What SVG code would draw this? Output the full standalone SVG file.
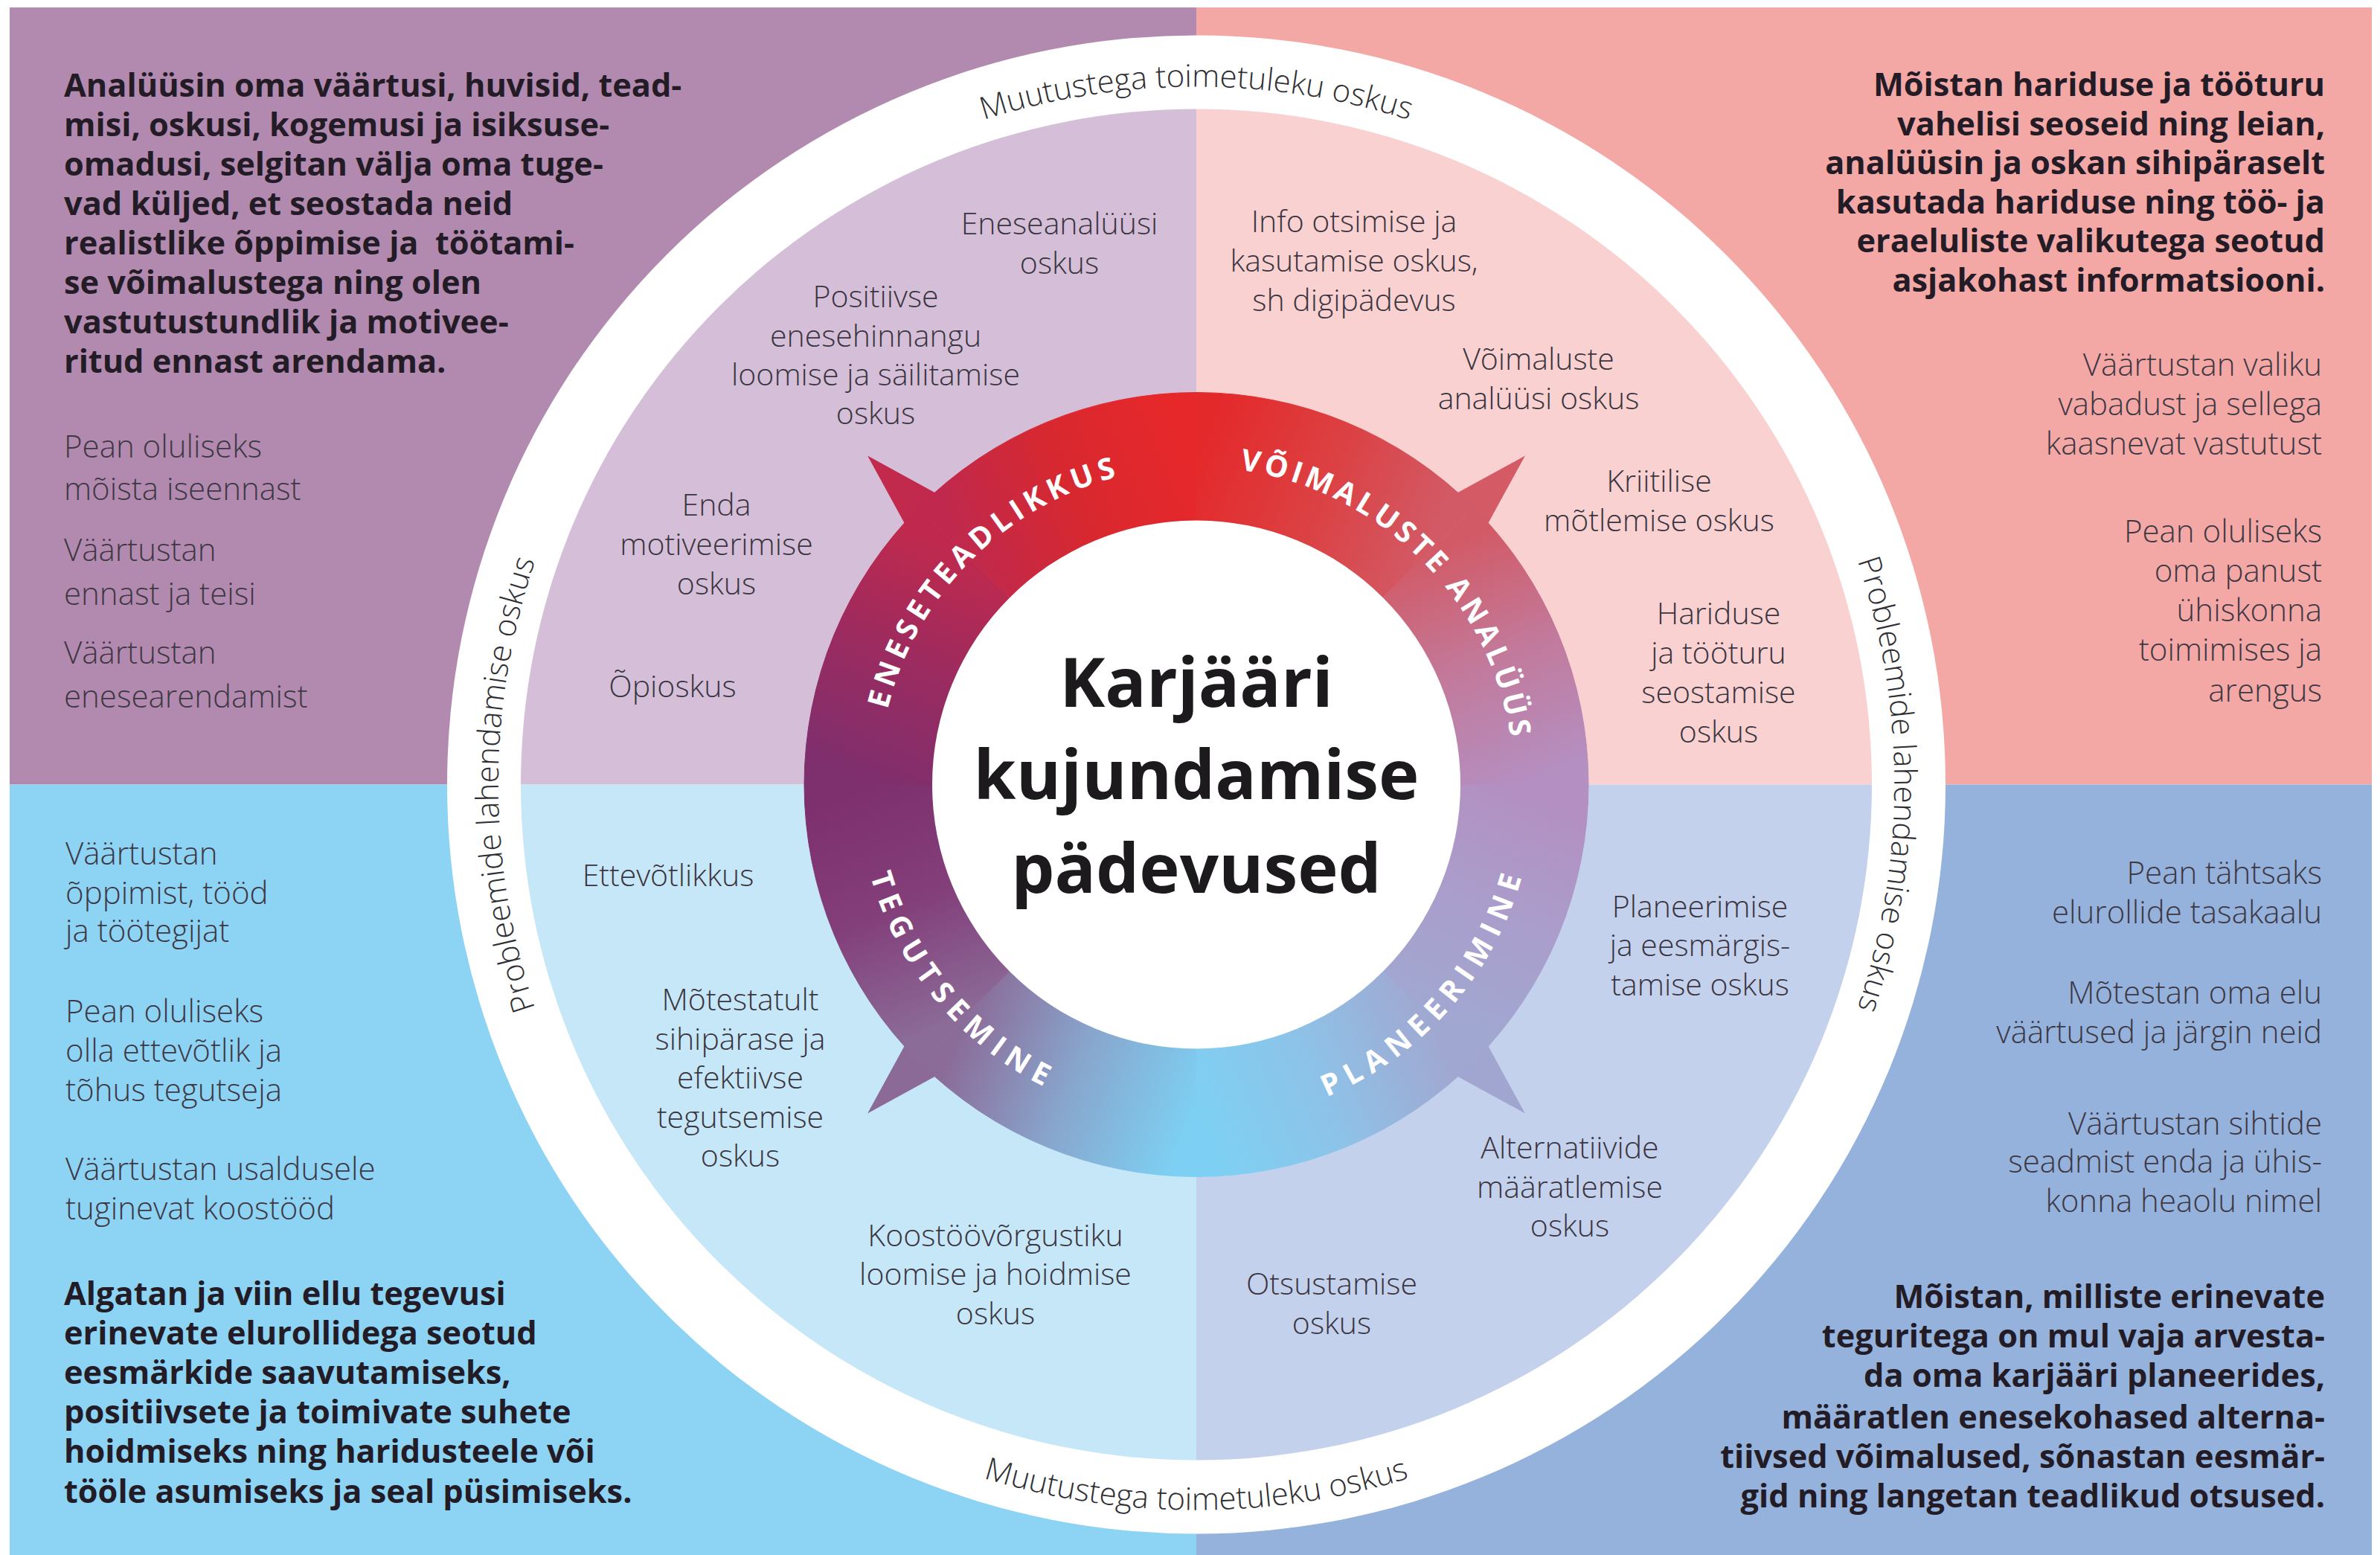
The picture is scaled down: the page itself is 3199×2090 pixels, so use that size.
<svg xmlns="http://www.w3.org/2000/svg" width="3199" height="2090" viewBox="0 0 3199 2090">
<style>
.b{font-family:"Open Sans","Noto Sans","Liberation Sans",sans-serif;font-weight:700;font-size:43.3px;fill:#231c26}
.l{font-family:"Open Sans","Noto Sans","Liberation Sans",sans-serif;font-weight:300;font-size:42px;fill:#3e3844}
.i{font-family:"Open Sans","Noto Sans","Liberation Sans",sans-serif;font-weight:300;font-size:41px;fill:#3a3540;text-anchor:middle}
.e{text-anchor:end}
.rt{font-family:"Open Sans","Noto Sans","Liberation Sans",sans-serif;font-weight:300;font-size:42px;fill:#2f2f33}
.rl{font-family:"Open Sans","Noto Sans","Liberation Sans",sans-serif;font-weight:700;font-size:40px;fill:#ffffff}
.t{font-family:"Open Sans","Noto Sans","Liberation Sans",sans-serif;font-weight:700;font-size:92px;fill:#1c1a1d;text-anchor:middle}
</style>
<defs>
<clipPath id="frame"><rect x="13" y="10" width="3175" height="2080"/></clipPath>
<linearGradient id="g0" gradientUnits="userSpaceOnUse" x1="2049" y1="1054.5" x2="1919.8" y2="1366.3"><stop offset="0" stop-color="#b48fc1"/><stop offset="0.5" stop-color="#aa9dcb"/><stop offset="1" stop-color="#a0a8d1"/></linearGradient>
<linearGradient id="g1" gradientUnits="userSpaceOnUse" x1="1919.8" y1="1366.3" x2="1608" y2="1495.5"><stop offset="0" stop-color="#a0a8d1"/><stop offset="0.5" stop-color="#8ec2e8"/><stop offset="1" stop-color="#7dd0f3"/></linearGradient>
<linearGradient id="g2" gradientUnits="userSpaceOnUse" x1="1608" y1="1495.5" x2="1296.2" y2="1366.3"><stop offset="0" stop-color="#7dd0f3"/><stop offset="0.5" stop-color="#88a6cd"/><stop offset="1" stop-color="#8b6b98"/></linearGradient>
<linearGradient id="g3" gradientUnits="userSpaceOnUse" x1="1296.2" y1="1366.3" x2="1167" y2="1054.5"><stop offset="0" stop-color="#8b6b98"/><stop offset="0.5" stop-color="#833f7a"/><stop offset="1" stop-color="#7e2f6e"/></linearGradient>
<linearGradient id="g4" gradientUnits="userSpaceOnUse" x1="1167" y1="1054.5" x2="1296.2" y2="742.7"><stop offset="0" stop-color="#7e2f6e"/><stop offset="0.5" stop-color="#9a2b60"/><stop offset="1" stop-color="#c0294d"/></linearGradient>
<linearGradient id="g5" gradientUnits="userSpaceOnUse" x1="1296.2" y1="742.7" x2="1608" y2="613.5"><stop offset="0" stop-color="#c0294d"/><stop offset="0.5" stop-color="#d8282f"/><stop offset="1" stop-color="#e7282a"/></linearGradient>
<linearGradient id="g6" gradientUnits="userSpaceOnUse" x1="1608" y1="613.5" x2="1919.8" y2="742.7"><stop offset="0" stop-color="#e4292b"/><stop offset="0.5" stop-color="#dc4042"/><stop offset="1" stop-color="#d25a66"/></linearGradient>
<linearGradient id="g7" gradientUnits="userSpaceOnUse" x1="1919.8" y1="742.7" x2="2049" y2="1054.5"><stop offset="0" stop-color="#d25a66"/><stop offset="0.5" stop-color="#c27a9c"/><stop offset="1" stop-color="#b48fc1"/></linearGradient>
<path id="pTop" d="M 726.6 733.7 A 938 938 0 0 1 2489.4 733.7"/>
<path id="pBottom" d="M 691.8 1388 A 975 975 0 0 0 2524.2 1388"/>
<path id="pLeft" d="M 1287.2 1936 A 938 938 0 0 1 1287.2 173"/>
<path id="pRight" d="M 1928.8 173 A 938 938 0 0 1 1928.8 1936"/>
<path id="pEne" d="M 1258.2 1299.4 A 427 427 0 0 1 1852.9 704.7"/>
<path id="pVoi" d="M 1363.1 704.7 A 427 427 0 0 1 1957.8 1299.4"/>
<path id="pTeg" d="M 1259.5 762.0 A 455 455 0 0 0 1835.5 1448.5"/>
<path id="pPla" d="M 1373.7 1444.5 A 455 455 0 0 0 1961.6 768.2"/>
</defs>

<rect x="0" y="0" width="3199" height="2090" fill="#ffffff"/>

<g id="background" clip-path="url(#frame)">
<rect x="0" y="0" width="1608" height="1054.5" fill="#b38aaf"/>
<rect x="1608" y="0" width="1591" height="1054.5" fill="#f4a8a6"/>
<rect x="0" y="1054.5" width="1608" height="1036" fill="#8dd3f4"/>
<rect x="1608" y="1054.5" width="1591" height="1036" fill="#94b2dc"/>
<circle cx="1608" cy="1054.5" r="1007" fill="#ffffff"/>
<path d="M 1608 1054.5 L 700 1054.5 A 908 908 0 0 1 1608 146.5 Z" fill="#d5bfd8"/>
<path d="M 1608 1054.5 L 1608 146.5 A 908 908 0 0 1 2516 1054.5 Z" fill="#f9d1d0"/>
<path d="M 1608 1054.5 L 700 1054.5 A 908 908 0 0 0 1608 1962.5 Z" fill="#c6e7f7"/>
<path d="M 1608 1054.5 L 1608 1962.5 A 908 908 0 0 0 2516 1054.5 Z" fill="#c4d1ec"/>
</g>

<g id="outer-ring-texts" class="rt">
<text><textPath href="#pTop" startOffset="50%" text-anchor="middle">Muutustega toimetuleku oskus</textPath></text>
<text><textPath href="#pBottom" startOffset="50%" text-anchor="middle">Muutustega toimetuleku oskus</textPath></text>
<text><textPath href="#pLeft" startOffset="50%" text-anchor="middle">Probleemide lahendamise oskus</textPath></text>
<text><textPath href="#pRight" startOffset="50%" text-anchor="middle">Probleemide lahendamise oskus</textPath></text>
</g>

<g id="ring">
<polygon points="1166.1,612.6 1221.6,713.9 1267.4,668.1" fill="#c1294d"/>
<polygon points="2049.9,612.6 1994.4,713.9 1948.6,668.1" fill="#d45a66"/>
<polygon points="1166.1,1496.4 1221.6,1395.1 1267.4,1440.9" fill="#8b6a98"/>
<polygon points="2049.9,1496.4 1994.4,1395.1 1948.6,1440.9" fill="#a0a6cf"/>
<path d="M 2135 1054.5 A 527 527 0 0 1 1980.6 1427.1 L 1859 1305.5 A 355 355 0 0 0 1963 1054.5 Z" fill="url(#g0)" stroke="url(#g0)" stroke-width="1"/>
<path d="M 1980.6 1427.1 A 527 527 0 0 1 1608 1581.5 L 1608 1409.5 A 355 355 0 0 0 1859 1305.5 Z" fill="url(#g1)" stroke="url(#g1)" stroke-width="1"/>
<path d="M 1608 1581.5 A 527 527 0 0 1 1235.4 1427.1 L 1357 1305.5 A 355 355 0 0 0 1608 1409.5 Z" fill="url(#g2)" stroke="url(#g2)" stroke-width="1"/>
<path d="M 1235.4 1427.1 A 527 527 0 0 1 1081 1054.5 L 1253 1054.5 A 355 355 0 0 0 1357 1305.5 Z" fill="url(#g3)" stroke="url(#g3)" stroke-width="1"/>
<path d="M 1081 1054.5 A 527 527 0 0 1 1235.4 681.9 L 1357 803.5 A 355 355 0 0 0 1253 1054.5 Z" fill="url(#g4)" stroke="url(#g4)" stroke-width="1"/>
<path d="M 1235.4 681.9 A 527 527 0 0 1 1608 527.5 L 1608 699.5 A 355 355 0 0 0 1357 803.5 Z" fill="url(#g5)" stroke="url(#g5)" stroke-width="1"/>
<path d="M 1608 527.5 A 527 527 0 0 1 1980.6 681.9 L 1859 803.5 A 355 355 0 0 0 1608 699.5 Z" fill="url(#g6)" stroke="url(#g6)" stroke-width="1"/>
<path d="M 1980.6 681.9 A 527 527 0 0 1 2135 1054.5 L 1963 1054.5 A 355 355 0 0 0 1859 803.5 Z" fill="url(#g7)" stroke="url(#g7)" stroke-width="1"/>
<circle cx="1608" cy="1054.5" r="355" fill="#ffffff"/>
</g>

<g id="ring-labels" class="rl">
<text style="letter-spacing:6.8px"><textPath href="#pEne" startOffset="50%" text-anchor="middle">ENESETEADLIKKUS</textPath></text>
<text style="letter-spacing:5.2px"><textPath href="#pVoi" startOffset="50%" text-anchor="middle">VÕIMALUSTE ANALÜÜS</textPath></text>
<text style="letter-spacing:10px"><textPath href="#pTeg" startOffset="50%" text-anchor="middle">TEGUTSEMINE</textPath></text>
<text style="letter-spacing:10px"><textPath href="#pPla" startOffset="50%" text-anchor="middle">PLANEERIMINE</textPath></text>
</g>

<g id="title" class="t">
<text x="1608" y="950">Karjääri</text>
<text x="1608" y="1074">kujundamise</text>
<text x="1608" y="1200">pädevused</text>
</g>

<g id="q-eneseteadlikkus">
<text class="b" x="86" y="130">Analüüsin oma väärtusi, huvisid, tead-</text>
<text class="b" x="86" y="183">misi, oskusi, kogemusi ja isiksuse-</text>
<text class="b" x="86" y="236">omadusi, selgitan välja oma tuge-</text>
<text class="b" x="86" y="289">vad küljed, et seostada neid</text>
<text class="b" x="86" y="342">realistlike õppimise ja&#160; töötami-</text>
<text class="b" x="86" y="395">se võimalustega ning olen</text>
<text class="b" x="86" y="448">vastutustundlik ja motivee-</text>
<text class="b" x="86" y="501">ritud ennast arendama.</text>
<text class="l" x="86" y="615">Pean oluliseks</text>
<text class="l" x="86" y="672">mõista iseennast</text>
<text class="l" x="86" y="754">Väärtustan</text>
<text class="l" x="86" y="813">ennast ja teisi</text>
<text class="l" x="86" y="892">Väärtustan</text>
<text class="l" x="86" y="951">enesearendamist</text>
<text class="i" x="1424" y="315">Eneseanalüüsi</text>
<text class="i" x="1424" y="368">oskus</text>
<text class="i" x="1177" y="413">Positiivse</text>
<text class="i" x="1177" y="466">enesehinnangu</text>
<text class="i" x="1177" y="518">loomise ja säilitamise</text>
<text class="i" x="1177" y="570">oskus</text>
<text class="i" x="963" y="693">Enda</text>
<text class="i" x="963" y="746">motiveerimise</text>
<text class="i" x="963" y="799">oskus</text>
<text class="i" x="904" y="937">Õpioskus</text>
</g>

<g id="q-voimaluste-analyys">
<text class="b e" x="3125" y="129">Mõistan hariduse ja tööturu</text>
<text class="b e" x="3125" y="182">vahelisi seoseid ning leian,</text>
<text class="b e" x="3125" y="234">analüüsin ja oskan sihipäraselt</text>
<text class="b e" x="3125" y="287">kasutada hariduse ning töö- ja</text>
<text class="b e" x="3125" y="339">eraeluliste valikutega seotud</text>
<text class="b e" x="3125" y="392">asjakohast informatsiooni.</text>
<text class="l e" x="3121" y="505">Väärtustan valiku</text>
<text class="l e" x="3121" y="558">vabadust ja sellega</text>
<text class="l e" x="3121" y="611">kaasnevat vastutust</text>
<text class="l e" x="3121" y="729">Pean oluliseks</text>
<text class="l e" x="3121" y="782">oma panust</text>
<text class="l e" x="3121" y="835">ühiskonna</text>
<text class="l e" x="3121" y="888">toimimises ja</text>
<text class="l e" x="3121" y="943">arengus</text>
<text class="i" x="1820" y="312">Info otsimise ja</text>
<text class="i" x="1820" y="365">kasutamise oskus,</text>
<text class="i" x="1820" y="418">sh digipädevus</text>
<text class="i" x="2068" y="497">Võimaluste</text>
<text class="i" x="2068" y="550">analüüsi oskus</text>
<text class="i" x="2230" y="661">Kriitilise</text>
<text class="i" x="2230" y="714">mõtlemise oskus</text>
<text class="i" x="2310" y="839">Hariduse</text>
<text class="i" x="2310" y="892">ja tööturu</text>
<text class="i" x="2310" y="945">seostamise</text>
<text class="i" x="2310" y="998">oskus</text>
</g>

<g id="q-tegutsemine">
<text class="l" x="88" y="1162">Väärtustan</text>
<text class="l" x="88" y="1215">õppimist, tööd</text>
<text class="l" x="88" y="1266">ja töötegijat</text>
<text class="l" x="88" y="1374">Pean oluliseks</text>
<text class="l" x="88" y="1427">olla ettevõtlik ja</text>
<text class="l" x="88" y="1480">tõhus tegutseja</text>
<text class="l" x="88" y="1586">Väärtustan usaldusele</text>
<text class="l" x="88" y="1639">tuginevat koostööd</text>
<text class="b" x="86" y="1754">Algatan ja viin ellu tegevusi</text>
<text class="b" x="86" y="1807">erinevate elurollidega seotud</text>
<text class="b" x="86" y="1860">eesmärkide saavutamiseks,</text>
<text class="b" x="86" y="1913">positiivsete ja toimivate suhete</text>
<text class="b" x="86" y="1966">hoidmiseks ning haridusteele või</text>
<text class="b" x="86" y="2020">tööle asumiseks ja seal püsimiseks.</text>
<text class="i" x="898" y="1191">Ettevõtlikkus</text>
<text class="i" x="995" y="1358">Mõtestatult</text>
<text class="i" x="995" y="1411">sihipärase ja</text>
<text class="i" x="995" y="1463">efektiivse</text>
<text class="i" x="995" y="1516">tegutsemise</text>
<text class="i" x="995" y="1568">oskus</text>
<text class="i" x="1338" y="1675">Koostöövõrgustiku</text>
<text class="i" x="1338" y="1727">loomise ja hoidmise</text>
<text class="i" x="1338" y="1780">oskus</text>
</g>

<g id="q-planeerimine">
<text class="l e" x="3121" y="1188">Pean tähtsaks</text>
<text class="l e" x="3121" y="1241">elurollide tasakaalu</text>
<text class="l e" x="3121" y="1349">Mõtestan oma elu</text>
<text class="l e" x="3121" y="1402">väärtused ja järgin neid</text>
<text class="l e" x="3121" y="1525">Väärtustan sihtide</text>
<text class="l e" x="3121" y="1576">seadmist enda ja ühis-</text>
<text class="l e" x="3121" y="1629">konna heaolu nimel</text>
<text class="b e" x="3125" y="1758">Mõistan, milliste erinevate</text>
<text class="b e" x="3125" y="1811">teguritega on mul vaja arvesta-</text>
<text class="b e" x="3125" y="1864">da oma karjääri planeerides,</text>
<text class="b e" x="3125" y="1920">määratlen enesekohased alterna-</text>
<text class="b e" x="3125" y="1973">tiivsed võimalused, sõnastan eesmär-</text>
<text class="b e" x="3125" y="2026">gid ning langetan teadlikud otsused.</text>
<text class="i" x="2285" y="1233">Planeerimise</text>
<text class="i" x="2285" y="1285">ja eesmärgis-</text>
<text class="i" x="2285" y="1338">tamise oskus</text>
<text class="i" x="2110" y="1557">Alternatiivide</text>
<text class="i" x="2110" y="1610">määratlemise</text>
<text class="i" x="2110" y="1662">oskus</text>
<text class="i" x="1790" y="1740">Otsustamise</text>
<text class="i" x="1790" y="1793">oskus</text>
</g>
</svg>
